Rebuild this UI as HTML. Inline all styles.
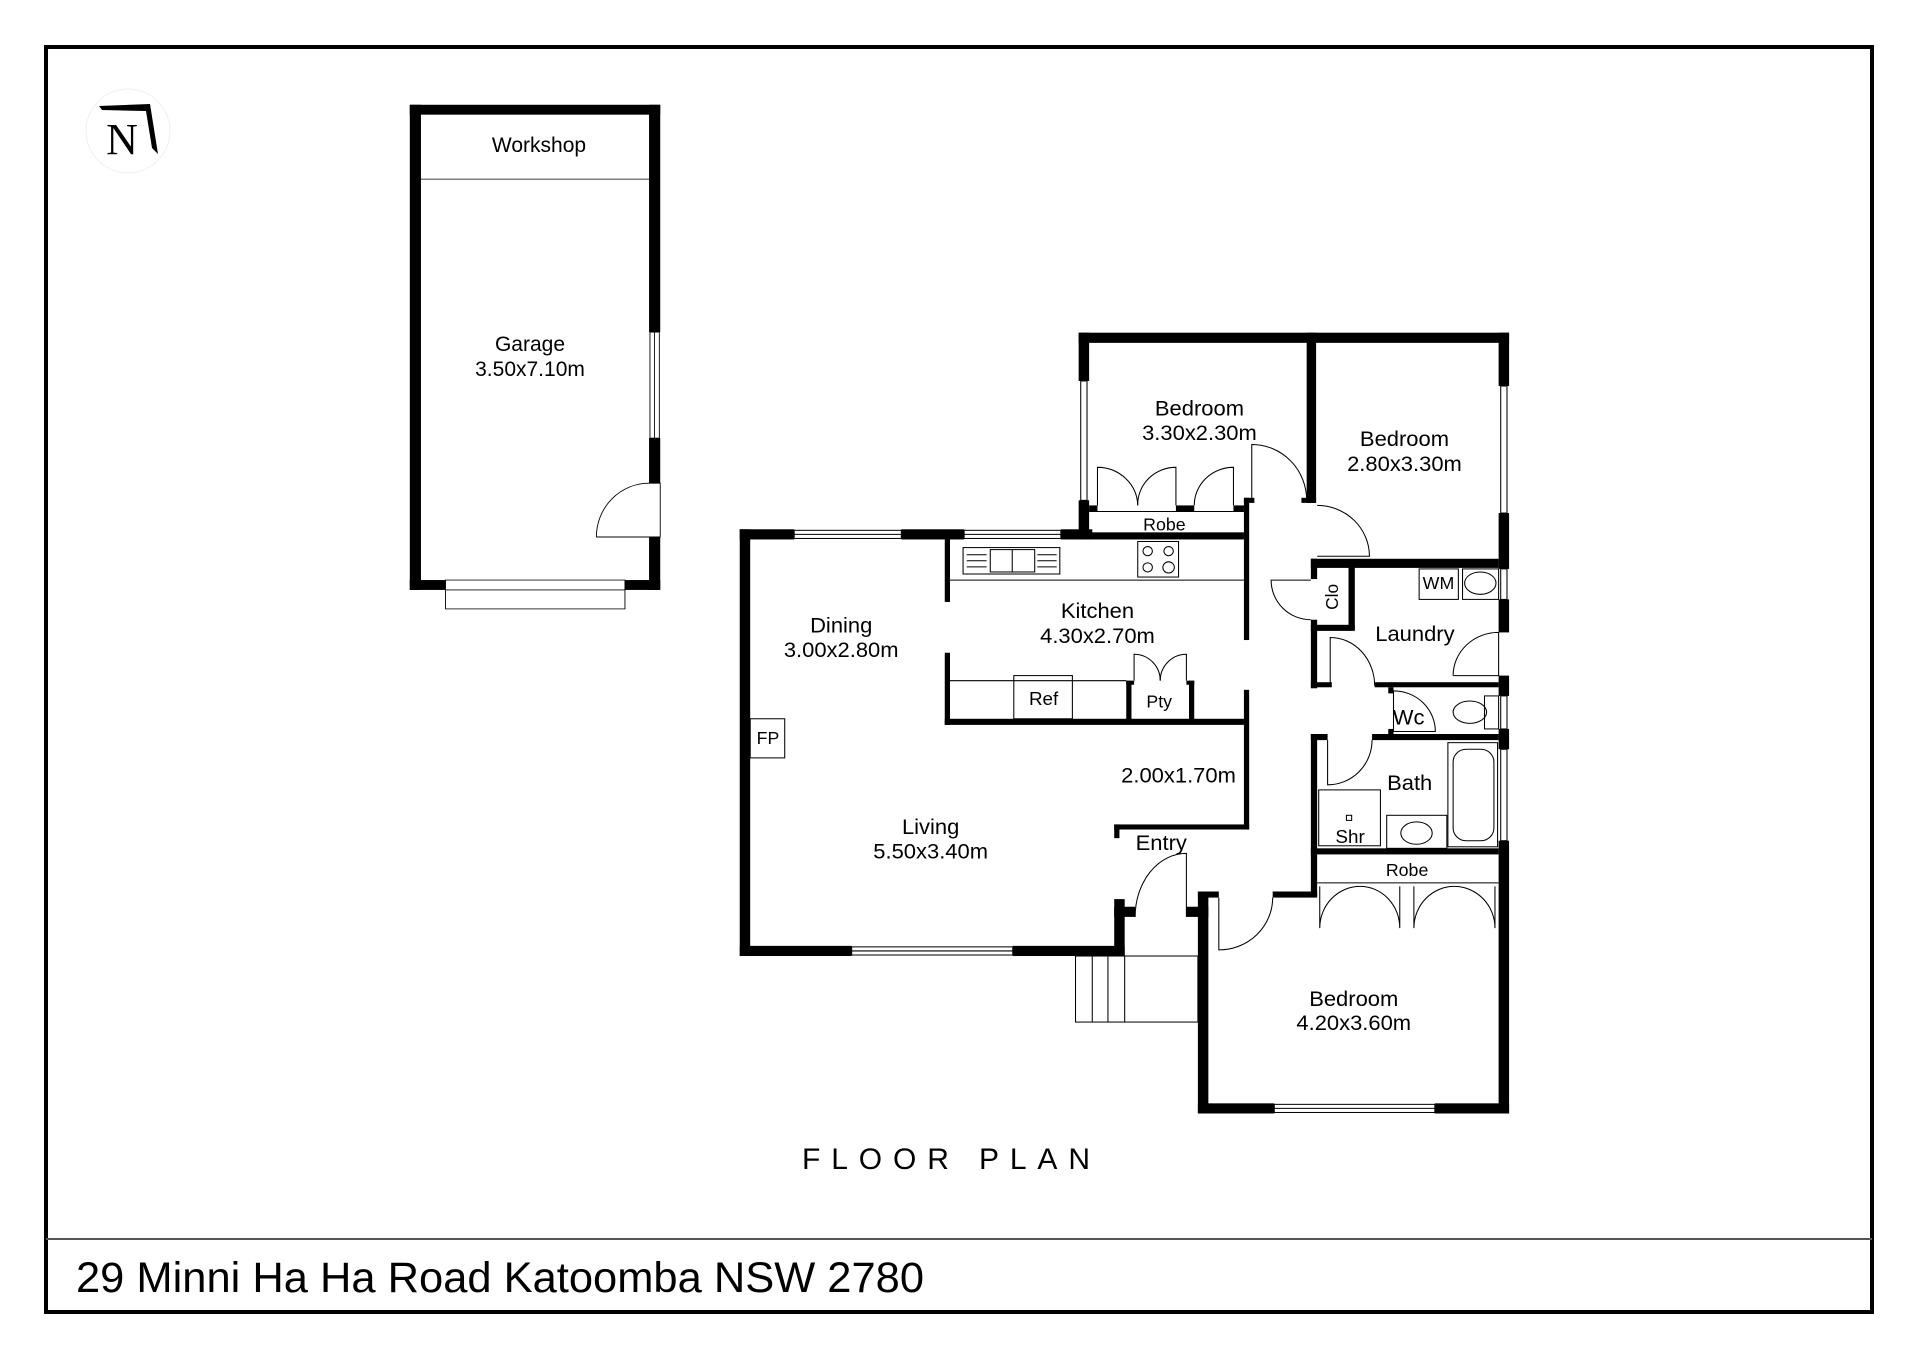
<!DOCTYPE html>
<html><head><meta charset="utf-8"><style>
html,body{margin:0;padding:0;background:#fff;}
svg{display:block;}
text{font-family:"Liberation Sans",Arial,sans-serif;fill:#000;}
</style></head><body>
<svg width="1920" height="1357" viewBox="0 0 1920 1357" xmlns="http://www.w3.org/2000/svg">
<rect x="0" y="0" width="1920" height="1357" fill="#fff"/>
<rect x="46" y="47" width="1826" height="1265" fill="none" stroke="#000" stroke-width="4"/>
<line x1="46" y1="1239" x2="1872" y2="1239" stroke="#555" stroke-width="2"/>
<text x="76" y="1292" font-size="43" textLength="848" lengthAdjust="spacingAndGlyphs">29 Minni Ha Ha Road Katoomba NSW 2780</text>
<text x="802" y="1169" font-size="30" textLength="288" lengthAdjust="spacing">FLOOR PLAN</text>
<circle cx="128" cy="131" r="42" fill="#fff" stroke="#f0f0f0" stroke-width="1"/>
<text x="122" y="154" font-size="44" text-anchor="middle" style="font-family:'Liberation Serif',serif">N</text>
<path d="M99 106 L150 104 L158 154 L152 148 L146 111 L102 110 Z" fill="#000"/>
<g transform="scale(0.4464,0.3954)" stroke="#000" fill="#000">
 <rect x="918" y="265" width="561" height="25" stroke="none"/>
 <rect x="918" y="265" width="25" height="1227" stroke="none"/>
 <rect x="918" y="1467" width="80" height="25" stroke="none"/>
 <rect x="1400" y="1467" width="79" height="25" stroke="none"/>
 <rect x="1454" y="265" width="25" height="575" stroke="none"/>
 <rect x="1454" y="1108" width="25" height="114" stroke="none"/>
 <rect x="1454" y="1358" width="25" height="134" stroke="none"/>
 <line x1="943" y1="453" x2="1454" y2="453" stroke-width="2" fill="none"/>
 <rect x="1456" y="840" width="21" height="268" fill="#fff" stroke-width="2"/>
 <line x1="1466" y1="840" x2="1466" y2="1108" stroke-width="2"/>
 <rect x="998" y="1467" width="402" height="25" fill="#fff" stroke-width="2"/>
 <rect x="998" y="1492" width="402" height="48" fill="#fff" stroke-width="2"/>
 <path d="M1336 1358 A118 136 0 0 1 1454 1222 L1479 1222 L1479 1358 Z" fill="none" stroke-width="2"/>
 <line x1="1336" y1="1358" x2="1454" y2="1358" stroke-width="2"/>
</g>
<g font-size="21" text-anchor="middle">
 <text x="539" y="152">Workshop</text>
 <text x="530" y="351">Garage</text>
 <text x="530" y="376">3.50x7.10m</text>
</g>
<g transform="translate(700,320) scale(0.523,0.508)">
 <g fill="#000" stroke="none">
  <rect x="724" y="25" width="823" height="20"/>
  <rect x="724" y="25" width="20" height="95"/>
  <rect x="724" y="355" width="20" height="77"/>
  <rect x="76" y="412" width="104" height="20"/>
  <rect x="385" y="412" width="120" height="20"/>
  <rect x="690" y="412" width="60" height="20"/>
  <rect x="744" y="418" width="296" height="14"/>
  <rect x="76" y="412" width="20" height="840"/>
  <rect x="76" y="1232" width="214" height="20"/>
  <rect x="598" y="1232" width="214" height="20"/>
  <rect x="792" y="1140" width="20" height="112"/>
  <rect x="792" y="1155" width="40" height="20"/>
  <rect x="930" y="1155" width="42" height="20"/>
  <rect x="952" y="1125" width="20" height="437"/>
  <rect x="952" y="1542" width="146" height="20"/>
  <rect x="1405" y="1542" width="142" height="20"/>
  <rect x="952" y="1125" width="40" height="12"/>
  <rect x="1095" y="1125" width="85" height="12"/>
  <rect x="1527" y="25" width="20" height="105"/>
  <rect x="1527" y="380" width="20" height="110"/>
  <rect x="1527" y="550" width="20" height="65"/>
  <rect x="1527" y="700" width="20" height="40"/>
  <rect x="1527" y="805" width="20" height="40"/>
  <rect x="1527" y="1025" width="20" height="537"/>
  <rect x="1160" y="25" width="18" height="335"/>
  <rect x="1040" y="350" width="20" height="10"/>
  <rect x="1150" y="350" width="28" height="10"/>
  <rect x="744" y="365" width="16" height="12"/>
  <rect x="910" y="365" width="35" height="12"/>
  <rect x="1020" y="365" width="20" height="12"/>
  <rect x="1040" y="350" width="10" height="280"/>
  <rect x="1040" y="728" width="10" height="275"/>
  <rect x="792" y="993" width="258" height="10"/>
  <rect x="792" y="993" width="10" height="27"/>
  <rect x="468" y="432" width="10" height="123"/>
  <rect x="468" y="655" width="10" height="142"/>
  <rect x="468" y="785" width="572" height="12"/>
  <rect x="815" y="710" width="10" height="80"/>
  <rect x="935" y="710" width="10" height="80"/>
  <rect x="815" y="710" width="15" height="8"/>
  <rect x="930" y="710" width="15" height="8"/>
  <rect x="1168" y="470" width="359" height="18"/>
  <rect x="1168" y="470" width="12" height="40"/>
  <rect x="1168" y="590" width="12" height="135"/>
  <rect x="1240" y="485" width="12" height="125"/>
  <rect x="1168" y="600" width="84" height="12"/>
  <rect x="1168" y="713" width="40" height="10"/>
  <rect x="1290" y="713" width="237" height="10"/>
  <rect x="1316" y="723" width="10" height="12"/>
  <rect x="1316" y="805" width="10" height="12"/>
  <rect x="1168" y="815" width="32" height="12"/>
  <rect x="1285" y="815" width="242" height="12"/>
  <rect x="1168" y="815" width="12" height="320"/>
  <rect x="1168" y="1040" width="359" height="12"/>
 </g>
 <g fill="none" stroke="#000" stroke-width="2">
  <rect x="728" y="120" width="12" height="235"/>
  <rect x="180" y="414" width="205" height="16"/><line x1="180" y1="422" x2="385" y2="422"/>
  <rect x="505" y="414" width="185" height="16"/><line x1="505" y1="422" x2="690" y2="422"/>
  <rect x="290" y="1234" width="308" height="16"/><line x1="290" y1="1242" x2="598" y2="1242"/>
  <rect x="1098" y="1544" width="307" height="16"/><line x1="1098" y1="1552" x2="1405" y2="1552"/>
  <rect x="1531" y="130" width="12" height="250"/>
  <rect x="1531" y="490" width="12" height="60"/>
  <rect x="1531" y="740" width="12" height="65"/>
  <rect x="1531" y="845" width="12" height="180"/>
  <rect x="96" y="785" width="66" height="77"/>
  <line x1="478" y1="512" x2="1040" y2="512"/>
  <rect x="503" y="448" width="185" height="52"/>
  <rect x="555" y="452" width="85" height="44"/>
  <line x1="597" y1="452" x2="597" y2="496"/>
  <line x1="510" y1="462" x2="548" y2="462"/><line x1="510" y1="474" x2="548" y2="474"/><line x1="510" y1="486" x2="548" y2="486"/>
  <line x1="645" y1="462" x2="682" y2="462"/><line x1="645" y1="474" x2="682" y2="474"/><line x1="645" y1="486" x2="682" y2="486"/>
  <rect x="837" y="436" width="78" height="70"/>
  <circle cx="856" cy="455" r="9"/><circle cx="896" cy="455" r="9"/>
  <circle cx="856" cy="487" r="9"/><circle cx="896" cy="487" r="11"/>
  <line x1="478" y1="710" x2="815" y2="710"/>
  <rect x="600" y="700" width="112" height="85"/>
  <rect x="718" y="1252" width="234" height="130"/>
  <line x1="750" y1="1252" x2="750" y2="1382"/>
  <line x1="780" y1="1252" x2="780" y2="1382"/>
  <line x1="812" y1="1252" x2="812" y2="1382"/>
  <line x1="744" y1="377" x2="1040" y2="377"/>
  <line x1="1180" y1="1108" x2="1527" y2="1108"/>
  <path d="M760 365 L760 290 A77 77 0 0 1 837 365"/>
  <path d="M910 365 L910 290 A73 73 0 0 0 837 365"/>
  <path d="M1020 365 L1020 290 A75 75 0 0 0 945 365"/>
  <path d="M1055 355 L1055 245 A105 110 0 0 1 1160 355"/>
  <path d="M1180 465 L1280 465 A100 100 0 0 0 1180 365"/>
  <path d="M1168 512 L1092 512 A76 78 0 0 0 1168 590"/>
  <path d="M1205 720 L1205 625 A85 95 0 0 1 1290 720"/>
  <path d="M1440 700 L1527 700 L1527 615 A87 85 0 0 0 1440 700"/>
  <path d="M1326 810 L1326 730 A80 80 0 0 1 1406 810 Z"/>
  <path d="M1200 827 L1200 915 A85 88 0 0 0 1285 827"/>
  <path d="M930 1175 L930 1050 A98 125 0 0 0 832 1175"/>
  <path d="M992 1137 L992 1240 A103 103 0 0 0 1095 1137"/>
  <path d="M1185 1115 L1185 1197 A77 82 0 0 1 1262 1115"/>
  <path d="M1338 1115 L1338 1197 A76 82 0 0 0 1262 1115"/>
  <path d="M1365 1115 L1365 1197 A77 82 0 0 1 1442 1115"/>
  <path d="M1520 1115 L1520 1197 A78 82 0 0 0 1442 1115"/>
  <path d="M830 710 L830 658 A50 52 0 0 1 880 710"/>
  <path d="M930 710 L930 658 A50 52 0 0 0 880 710"/>
  <rect x="1375" y="490" width="75" height="60"/>
  <rect x="1458" y="490" width="69" height="60"/>
  <ellipse cx="1492" cy="518" rx="30" ry="22"/>
  <rect x="1500" y="740" width="27" height="65"/>
  <ellipse cx="1472" cy="772" rx="32" ry="22"/>
  <rect x="1183" y="925" width="118" height="110"/>
  <rect x="1313" y="975" width="115" height="65"/>
  <ellipse cx="1370" cy="1010" rx="30" ry="22"/>
  <rect x="1430" y="832" width="95" height="205"/>
  <rect x="1440" y="845" width="78" height="180" rx="25"/>
  <rect x="1236" y="975" width="10" height="10"/>
 </g>
 <g font-size="42" text-anchor="middle">
  <text x="955" y="188">Bedroom</text><text x="955" y="236">3.30x2.30m</text>
  <text x="1347" y="248">Bedroom</text><text x="1347" y="297">2.80x3.30m</text>
  <text x="888" y="414" font-size="34">Robe</text>
  <text x="760" y="587">Kitchen</text><text x="760" y="636">4.30x2.70m</text>
  <text x="270" y="615">Dining</text><text x="270" y="663">3.00x2.80m</text>
  <text x="130" y="835" font-size="34">FP</text>
  <text x="657" y="758" font-size="36">Ref</text>
  <text x="878" y="763" font-size="34">Pty</text>
  <text x="1220" y="545" font-size="34" transform="rotate(-90 1220 545)">Clo</text>
  <text x="1367" y="632">Laundry</text>
  <text x="1412" y="530" font-size="34">WM</text>
  <text x="1355" y="796">Wc</text>
  <text x="1357" y="925">Bath</text>
  <text x="1243" y="1030" font-size="36">Shr</text>
  <text x="1352" y="1094" font-size="34">Robe</text>
  <text x="441" y="1012">Living</text><text x="441" y="1060">5.50x3.40m</text>
  <text x="915" y="910">2.00x1.70m</text>
  <text x="882" y="1043">Entry</text>
  <text x="1250" y="1350">Bedroom</text><text x="1250" y="1398">4.20x3.60m</text>
 </g>
</g>
</svg>
</body></html>
